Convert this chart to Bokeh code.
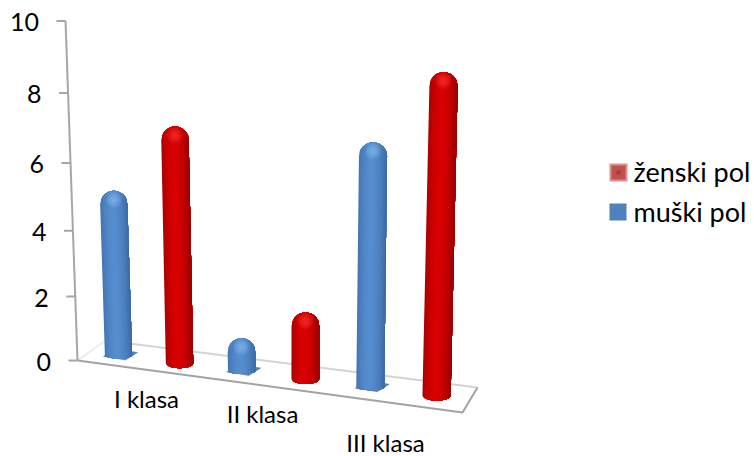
from bokeh.core.properties import value
from bokeh.embed import file_html
from bokeh.plotting import figure
from bokeh.resources import INLINE

# Chart content
categories = ["I klasa", "II klasa", "III klasa"]
series_names = ["muški pol", "ženski pol"]
muski_pol = [5, 1, 7]
zenski_pol = [7, 2, 9]
tick_values = [0, 2, 4, 6, 8, 10]

FONT = "Lato"
WIDTH, HEIGHT = 754, 456

# Parameters of the oblique 3D projection (floor plane, height scale, lean)
AXIS_BASE = (77, 360)
FLOOR = {"front_right": (462, 412), "back_right": (477, 387), "back_left": (105, 340)}
SLOPE = 0.126
FIRST_BAR = (118, 355)
VANISH_X = 300
LEAN = 1.58e-4
RADIUS = 13.6


def rise(v):
    """Pixel height of value v at the value axis, with foreshortening."""
    return 31.5 * v / (1 - 0.00725 * v)


def slot_x(n):
    """Screen x of the nth bar slot along the floor."""
    return FIRST_BAR[0] + 60.4 * n / (1 - 0.0101 * n)


def mix(a, b, t):
    return tuple(a[i] + (b[i] - a[i]) * t for i in range(3))


def to_hex(c):
    return "#%02x%02x%02x" % tuple(int(round(x)) for x in c)


def shade(q, edge, core):
    # Brightest slightly left of the cylinder axis, falling off to both edges
    d = abs(q + 0.1) / 1.1
    return to_hex(mix(core, edge, min(1.0, d ** 1.8)))


p = figure(width=WIDTH, height=HEIGHT, x_range=(0, WIDTH), y_range=(HEIGHT, 0),
           output_backend="svg", toolbar_location=None, min_border=0)
p.axis.visible = False
p.grid.visible = False
p.outline_line_color = None
p.background_fill_color = "white"
p.border_fill_color = "white"

# Floor edges
bx, by = AXIS_BASE
p.line([bx, FLOOR["back_left"][0]], [by, FLOOR["back_left"][1]], line_color="#ececec", line_width=2)
p.line([FLOOR["back_left"][0], FLOOR["back_right"][0]], [FLOOR["back_left"][1], FLOOR["back_right"][1]],
       line_color="#d4d4d4", line_width=2)
p.line([bx, FLOOR["front_right"][0], FLOOR["back_right"][0]], [by, FLOOR["front_right"][1], FLOOR["back_right"][1]],
       line_color="#a3a3a3", line_width=2)

# Value axis with ticks and labels
def axis_point(v):
    h = rise(v)
    return bx - 12 * h / 340, by - h


ax = [axis_point(v) for v in tick_values]
p.line([a[0] for a in ax], [a[1] for a in ax], line_color="#a6a6a6", line_width=2)
p.segment([a[0] - 9 for a in ax], [a[1] for a in ax], [a[0] for a in ax], [a[1] for a in ax],
          line_color="#a6a6a6", line_width=2)
p.text([a[0] - 26.5 for a in ax], [a[1] + 1 for a in ax], text=[str(v) for v in tick_values],
       text_font=value(FONT), text_font_size="25px", text_align="right",
       text_baseline="middle", text_color="black")


def draw_bar(n, v, edge, core, glow, bottom, plate=None):
    x0 = slot_x(n)
    y0 = FIRST_BAR[1] + SLOPE * (x0 - FIRST_BAR[0])
    h = rise(v) * (1 + 1.85e-4 * (x0 - 77))
    lean = (x0 - VANISH_X) * LEAN * h
    r = RADIUS * (1 + 1.2e-4 * (x0 - 118))
    apex = y0 - h
    if plate:
        p.patch([x0 - 15, x0 - 5, x0 + 19, x0 + 7], [y0 + 1, y0 - 7, y0 - 3, y0 + 4.5],
                fill_color=plate, line_color=plate, line_width=0.5)
    strips = 30
    qs = [-1 + 2 * k / strips for k in range(strips + 1)]
    xs, ys, colors = [], [], []
    # Each strip runs through to the right edge, so later strips paint over it without seams
    for k in range(strips):
        right = qs[k:]
        top_y = [apex + r * (1 - (1 - q * q) ** 0.5) for q in right]
        top_x = [x0 + q * r + lean for q in right]
        bot_y = [y0 + bottom * (1 - q * q) ** 0.5 for q in right]
        bot_x = [x0 + q * r for q in right]
        xs.append(top_x + bot_x[::-1])
        ys.append(top_y + bot_y[::-1])
        colors.append(shade((qs[k] + qs[k + 1]) / 2, edge, core))
    p.patches(xs, ys, fill_color=colors, line_color=None)
    # Soft highlight on the rounded cap
    for rad in (8, 6.5, 5, 3.5, 2):
        p.circle([x0 + lean], [apex + 9], radius=rad, fill_color=glow, fill_alpha=0.16, line_color=None)


RED_EDGE, RED_CORE = (150, 0, 0), (216, 0, 0)
BLUE_EDGE, BLUE_CORE = (58, 105, 165), (86, 141, 206)

for i, (m, z) in enumerate(zip(muski_pol, zenski_pol)):
    draw_bar(2 * i, m, BLUE_EDGE, BLUE_CORE, "#8fc0f0", 3, plate="#4f81bd")
    draw_bar(2 * i + 1, z, RED_EDGE, RED_CORE, "#ff4040", 5)

# Category labels hang below the front floor edge
p.text([146, 262, 385], [398, 413, 442], text=categories, text_font=value(FONT),
       text_font_size="24px", text_align="center", text_baseline="middle", text_color="black")

# Legend
p.quad(left=[609], right=[627], top=[163], bottom=[181], fill_color="#dc8f8d", line_color=None)
p.quad(left=[611], right=[625], top=[165], bottom=[179], fill_color="#c0504d", line_color=None)
p.quad(left=[616], right=[620], top=[170], bottom=[174], fill_color="#a83c3a", line_color=None)
p.quad(left=[609], right=[626], top=[203], bottom=[220], fill_color="#4f81bd", line_color=None)
p.text([633, 633], [171, 211], text=[series_names[1], series_names[0]], text_font=value(FONT),
       text_font_size="27px", text_align="left", text_baseline="middle", text_color="black")

open("out.html", "w").write(file_html(p, INLINE))
